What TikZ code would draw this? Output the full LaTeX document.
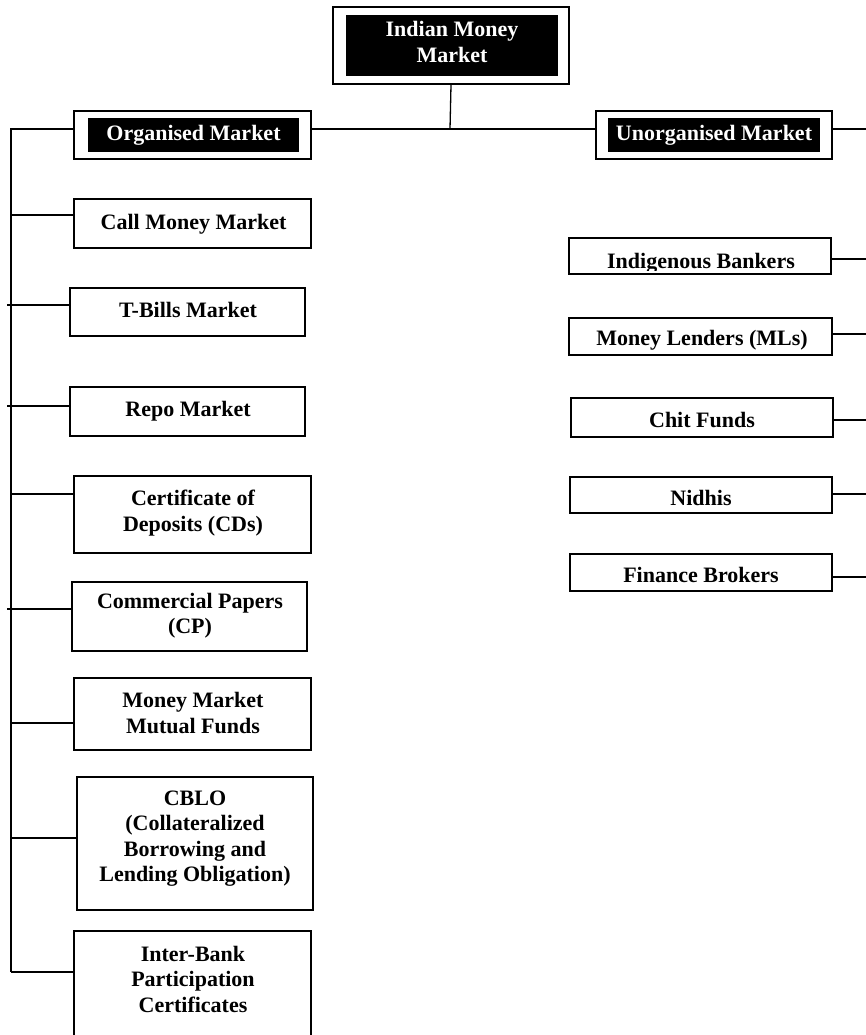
\documentclass[tikz,border=0pt]{standalone}
\usepackage{fontspec}
\setmainfont{Liberation Serif}
\begin{document}
\begin{tikzpicture}[x=1pt,y=-1pt,
  box/.style={draw=black, line width=1.5pt, rectangle, inner sep=0pt, fill=white},
  hbox/.style={draw=black, line width=1.7pt, rectangle, inner sep=0pt, fill=white},
  blk/.style={fill=black, draw=none, rectangle, inner sep=0pt},
  txt/.style={font=\bfseries\fontsize{22}{25.5}\selectfont, inner sep=0pt, align=center, text=black},
  wtxt/.style={txt, text=white},
  conn/.style={draw=black, line width=1.3pt}]
\useasboundingbox (0,0) rectangle (866,1035);
\clip (0,0) rectangle (866,1035);

% ---------- header boxes ----------
\node[hbox, minimum width=236pt, minimum height=77pt] (top) at (451,45.5) {};
\node[blk, minimum width=212pt, minimum height=61pt] (topi) at (452,45.5) {};
\node[wtxt] (topt) at (452,42) {Indian Money\\Market};

\node[hbox, minimum width=237pt, minimum height=48pt] (org) at (192.5,135) {};
\node[blk, minimum width=211pt, minimum height=34pt] (orgi) at (193.5,135) {};
\node[wtxt, anchor=base] (orgt) at (193.5,140.5) {Organised Market};

\node[hbox, minimum width=236pt, minimum height=48pt] (unorg) at (714,135) {};
\node[blk, minimum width=212pt, minimum height=34pt] (unorgi) at (714,135) {};
\node[wtxt, anchor=base] (unorgt) at (714,140.5) {Unorganised Market};

% ---------- main connectors ----------
\coordinate (jn) at (450,129);
\coordinate (vtop) at (11,129);
\coordinate (vbot) at (11,972);
\coordinate (rend) at (866,129);
\draw[conn] (top.south) -- (jn);
\draw[conn] (org.east |- jn) -- (unorg.west |- jn);
\draw[conn] (unorg.east |- jn) -- (rend);
\draw[conn] (org.west |- jn) -- (vtop) -- (vbot);

% ---------- organised market boxes ----------
\node[box, minimum width=237pt, minimum height=49pt] (cmm) at (192.5,223.5) {};
\node[txt, anchor=base] (cmmt) at (193.5,229.5) {Call Money Market};

\node[box, minimum width=235pt, minimum height=48pt] (tb) at (187.5,312) {};
\node[txt, anchor=base] (tbt) at (188,317) {T-Bills Market};

\node[box, minimum width=235pt, minimum height=49pt] (repo) at (187.5,411.5) {};
\node[txt, anchor=base] (repot) at (188,416) {Repo Market};

\node[box, minimum width=237pt, minimum height=77pt] (cd) at (192.5,514.5) {};
\node[txt] (cdt) at (193,513) {Certificate of\\Deposits (CDs)};

\node[box, minimum width=235pt, minimum height=69pt] (cp) at (189.5,616.5) {};
\node[txt] (cpt) at (190,615.5) {Commercial Papers\\(CP)};

\node[box, minimum width=237pt, minimum height=72pt] (mmmf) at (192.5,714) {};
\node[txt] (mmmft) at (193,713) {Money Market\\Mutual Funds};

\node[box, minimum width=236pt, minimum height=133pt] (cblo) at (195,843.5) {};
\node[txt] (cblot) at (195,838.5) {CBLO\\(Collateralized\\Borrowing and\\Lending Obligation)};

\node[box, minimum width=237pt, minimum height=119pt] (ib) at (192.5,990.5) {};
\node[txt] (ibt) at (193,979) {Inter-Bank\\Participation\\Certificates};

% left connectors
\coordinate (l1) at (12,215);
\coordinate (l2) at (7,305);
\coordinate (l3) at (7,406);
\coordinate (l4) at (12,494);
\coordinate (l5) at (7,609);
\coordinate (l6) at (12,723);
\coordinate (l7) at (12,838);
\draw[conn] (l1) -- (cmm.west |- l1);
\draw[conn] (l2) -- (tb.west |- l2);
\draw[conn] (l3) -- (repo.west |- l3);
\draw[conn] (l4) -- (cd.west |- l4);
\draw[conn] (l5) -- (cp.west |- l5);
\draw[conn] (l6) -- (mmmf.west |- l6);
\draw[conn] (l7) -- (cblo.west |- l7);
\draw[conn] (vbot) -- (ib.west |- vbot);

% ---------- unorganised market boxes ----------
\node[box, minimum width=262pt, minimum height=36pt] (ind) at (700,256) {};
\begin{scope}
  \clip (569,238) rectangle (831,270.5);
  \node[txt, anchor=base] (indt) at (701,268) {Indigenous Bankers};
\end{scope}

\node[box, minimum width=263pt, minimum height=37pt] (ml) at (700.5,336.5) {};
\begin{scope}
  \clip (569,318) rectangle (832,349);
  \node[txt, anchor=base] (mlt) at (702,345) {Money Lenders (MLs)};
\end{scope}

\node[box, minimum width=262pt, minimum height=39pt] (chit) at (702,417.5) {};
\node[txt, anchor=base] (chitt) at (702,427) {Chit Funds};

\node[box, minimum width=262pt, minimum height=36pt] (nid) at (701,495) {};
\node[txt, anchor=base] (nidt) at (701,505) {Nidhis};

\node[box, minimum width=262pt, minimum height=37pt] (fb) at (701,572.5) {};
\node[txt, anchor=base] (fbt) at (701,582) {Finance Brokers};

% right connectors
\coordinate (r1) at (866,259);
\coordinate (r2) at (866,334);
\coordinate (r3) at (866,420);
\coordinate (r4) at (866,494);
\coordinate (r5) at (866,577);
\draw[conn] (ind.east |- r1) -- (r1);
\draw[conn] (ml.east |- r2) -- (r2);
\draw[conn] (chit.east |- r3) -- (r3);
\draw[conn] (nid.east |- r4) -- (r4);
\draw[conn] (fb.east |- r5) -- (r5);
\end{tikzpicture}
\end{document}
